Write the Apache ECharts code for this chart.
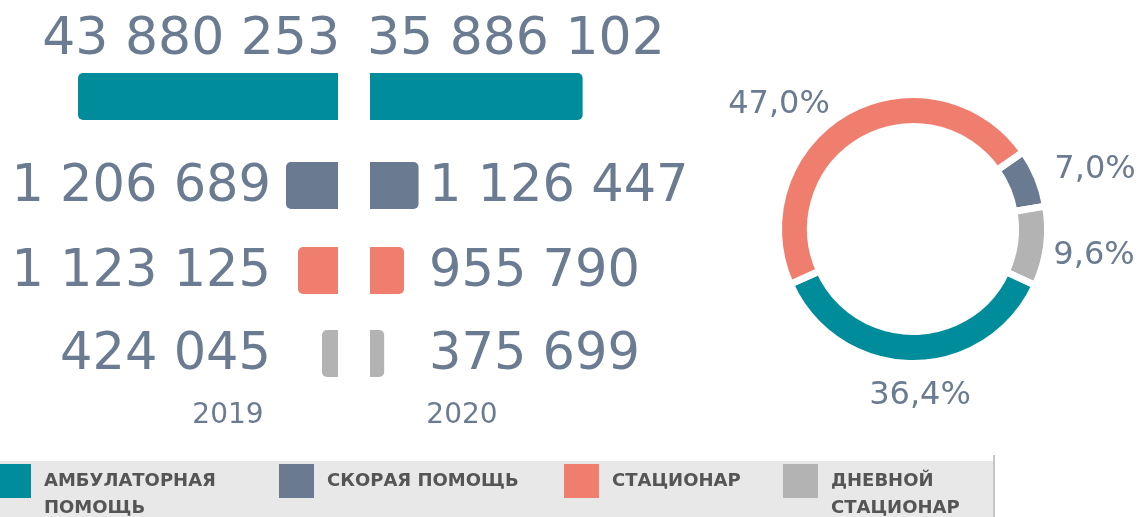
<!DOCTYPE html>
<html><head><meta charset="utf-8">
<script src="https://cdn.jsdelivr.net/npm/echarts@6/dist/echarts.min.js"></script>
<style>html,body{margin:0;padding:0;background:#fff}#c{width:1139px;height:517px}</style>
</head><body><div id="c"></div>
<script>
// ---- data ----
const categories = ['АМБУЛАТОРНАЯ ПОМОЩЬ', 'СКОРАЯ ПОМОЩЬ', 'СТАЦИОНАР', 'ДНЕВНОЙ СТАЦИОНАР'];
const legendLabels = ['АМБУЛАТОРНАЯ\nПОМОЩЬ', 'СКОРАЯ ПОМОЩЬ', 'СТАЦИОНАР', 'ДНЕВНОЙ\nСТАЦИОНАР'];
const years = ['2019', '2020'];
const values2019 = [43880253, 1206689, 1123125, 424045];
const values2020 = [35886102, 1126447, 955790, 375699];
const shares = [36.4, 7.0, 47.0, 9.6];
const pieOrder = [1, 3, 0, 2]; // clockwise order of slices

// ---- layout / style ----
const colors = ['#008c9a', '#6a7b91', '#f07e6e', '#b3b3b3'];
const textColor = '#6b7b91';
const numFont = '"DejaVu Sans", sans-serif';
const rowTop = [73, 162, 247, 330];
const rowH = 47;
const rowW = [260, 52, 40, 16];
const midL = 338, midR = 370;
const pieLabelPos = [[920, 396], [1095, 170], [779, 105], [1094, 256]];
const legendLeft = [-4, 279, 564, 783];
const legendTextGap = 13;

const fmtNum = v => String(v).replace(/\B(?=(\d{3})+(?!\d))/g, ' ');
const fmtPct = v => v.toFixed(1).replace('.', ',') + '%';

const chart = echarts.init(document.getElementById('c'), null, {renderer: 'canvas'});

const grid = [], xAxis = [], yAxis = [], series = [], graphic = [];
categories.forEach((cat, i) => {
  const vals = [values2019[i], values2020[i]];
  const rowMax = Math.max(vals[0], vals[1]);
  [0, 1].forEach(side => {
    const gi = grid.length;
    grid.push({left: side === 0 ? midL - rowW[i] : midR, top: rowTop[i], width: rowW[i], height: rowH});
    xAxis.push({gridIndex: gi, type: 'value', min: 0, max: rowMax, inverse: side === 0, show: false});
    yAxis.push({gridIndex: gi, type: 'category', data: [cat], show: false});
    series.push({
      type: 'bar', name: cat, xAxisIndex: gi, yAxisIndex: gi,
      data: [vals[side]], barWidth: '100%', barCategoryGap: 0,
      itemStyle: {color: colors[i], borderRadius: side === 0 ? [5, 0, 0, 5] : [0, 5, 5, 0]}
    });
  });
  // number labels
  const cy = i === 0 ? 40 : rowTop[i] + rowH / 2 + 2;
  const lx = i === 0 ? 340 : 271;
  const rx = i === 0 ? 367 : 429;
  const fs = i === 0 ? 52 : 51;
  graphic.push({type: 'text', x: lx, y: cy, style: {text: fmtNum(vals[0]), fill: textColor, font: fs + 'px ' + numFont, align: 'right', verticalAlign: 'middle'}});
  graphic.push({type: 'text', x: rx, y: cy, style: {text: fmtNum(vals[1]), fill: textColor, font: fs + 'px ' + numFont, align: 'left', verticalAlign: 'middle'}});
});

// year labels
graphic.push({type: 'text', x: 228, y: 416, style: {text: years[0], fill: textColor, font: '28px ' + numFont, align: 'center', verticalAlign: 'middle'}});
graphic.push({type: 'text', x: 462, y: 416, style: {text: years[1], fill: textColor, font: '28px ' + numFont, align: 'center', verticalAlign: 'middle'}});
// legend band
graphic.push({type: 'rect', z: -10, shape: {x: 0, y: 461, width: 993, height: 56}, style: {fill: '#e8e8e8'}});
graphic.push({type: 'line', shape: {x1: 994, y1: 455, x2: 994, y2: 517}, style: {stroke: '#c6c6c6', lineWidth: 2}});
// legend items
categories.forEach((cat, i) => {
  graphic.push({type: 'rect', shape: {x: legendLeft[i], y: 464, width: 35, height: 34}, style: {fill: colors[i]}});
  graphic.push({type: 'text', x: legendLeft[i] + 35 + legendTextGap, y: 468, style: {
    text: legendLabels[i], fill: '#555555', font: 'bold 18px "DejaVu Sans", sans-serif',
    lineHeight: 27, align: 'left', verticalAlign: 'top'}});
});

series.push({
  type: 'pie', center: [913, 229], radius: [102.5, 134.5], startAngle: 35, clockwise: true,
  itemStyle: {borderColor: '#fff', borderWidth: 7},
  label: {show: true, position: 'outside', color: textColor, fontSize: 32, fontFamily: numFont,
    overflow: 'none', formatter: p => fmtPct(p.value)},
  labelLine: {show: false},
  labelLayout: p => {
    const pos = pieLabelPos[pieOrder[p.dataIndex]];
    return {x: pos[0], y: pos[1], align: 'center', verticalAlign: 'middle'};
  },
  emphasis: {scale: false},
  data: pieOrder.map(k => ({name: categories[k], value: shares[k], itemStyle: {color: colors[k]}}))
});

chart.setOption({animation: false, grid, xAxis, yAxis, series, graphic});
</script></body></html>
